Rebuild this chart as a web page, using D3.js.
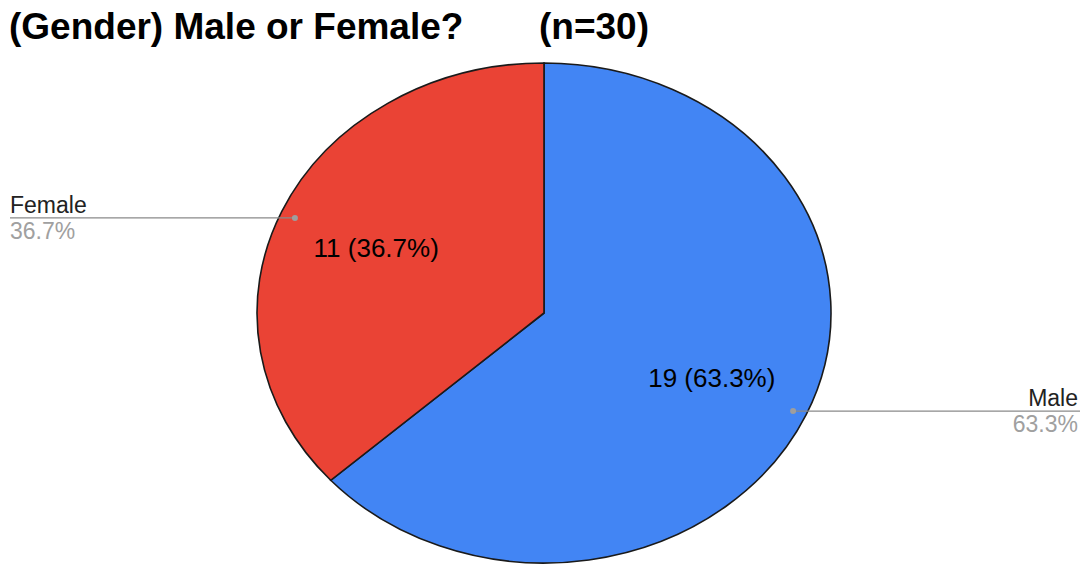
<!DOCTYPE html>
<html><head><meta charset="utf-8">
<script src="https://cdn.jsdelivr.net/npm/d3@7"></script>
<style>body{margin:0;background:#fff;}svg{display:block;font-family:"Liberation Sans",Arial,sans-serif;}</style>
</head><body>
<svg id="c" width="1083" height="564"></svg>
<script>
const categories = ["Male", "Female"];
const counts = [19, 11];
const colors = ["#4285F4", "#EA4335"];
const titleText = "(Gender) Male or Female?";
const nText = "(n=30)";

const W = 1083, H = 564;
const cx = 544, cy = 313, rx = 287, ry = 250;
const svg = d3.select("#c");

svg.append("text").attr("x", 9).attr("y", 39)
  .attr("font-size", 37).attr("font-weight", "bold").attr("fill", "#000")
  .text(titleText);
svg.append("text").attr("x", 539).attr("y", 39)
  .attr("font-size", 37).attr("font-weight", "bold").attr("fill", "#000")
  .text(nText);

const total = d3.sum(counts);
const data = categories.map((c, i) => ({cat: c, v: counts[i], color: colors[i]}));
const pie = d3.pie().value(d => d.v).sort(null);
const arcs = pie(data);
const R = ry;
const sx = rx / ry;
const arc = d3.arc().innerRadius(0).outerRadius(R);

const g = svg.append("g").attr("transform", `translate(${cx},${cy}) scale(${sx},1)`);
g.selectAll("path").data(arcs).enter().append("path")
  .attr("d", arc)
  .attr("fill", d => d.data.color)
  .attr("stroke", "#1a1a1a")
  .attr("stroke-width", 1.6)
  .attr("vector-effect", "non-scaling-stroke");

function pt(angle, frac) {
  return [cx + Math.sin(angle) * rx * frac, cy - Math.cos(angle) * ry * frac];
}
const fmt = v => (v / total * 100).toFixed(1) + "%";

arcs.forEach(a => {
  const mid = (a.startAngle + a.endAngle) / 2;
  const [lx, ly] = pt(mid, 0.64);
  svg.append("text").attr("x", lx).attr("y", ly + 9)
    .attr("text-anchor", "middle").attr("font-size", 26).attr("fill", "#000")
    .text(`${a.data.v} (${fmt(a.data.v)})`);

  const [dx, dy0] = pt(mid, 0.95);
  const dy = dy0 + 1.5;
  const right = Math.sin(mid) > 0;
  const ex = right ? W - 3 : 10;
  svg.append("line").attr("x1", dx).attr("y1", dy).attr("x2", ex).attr("y2", dy)
    .attr("stroke", "#8a8a8a").attr("stroke-width", 1.3);
  svg.append("circle").attr("cx", dx).attr("cy", dy).attr("r", 3).attr("fill", "#9e9e9e");
  svg.append("text").attr("x", right ? W - 5 : 10).attr("y", dy - 5)
    .attr("text-anchor", right ? "end" : "start").attr("font-size", 23).attr("fill", "#222")
    .text(a.data.cat);
  svg.append("text").attr("x", right ? W - 5 : 10).attr("y", dy + 21)
    .attr("text-anchor", right ? "end" : "start").attr("font-size", 23).attr("fill", "#a0a0a0")
    .text(fmt(a.data.v));
});
</script>
</body></html>
